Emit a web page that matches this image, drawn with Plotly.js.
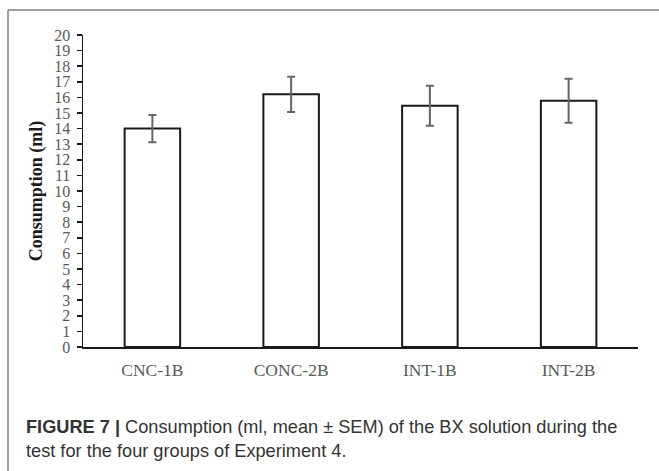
<!DOCTYPE html>
<html>
<head>
<meta charset="utf-8">
<script src="https://cdn.plot.ly/plotly-3.0.1.min.js"></script>
<style>
  html, body { margin: 0; padding: 0; background: #fff; }
  #chart { width: 659px; height: 471px; }
</style>
</head>
<body>
<div id="chart"></div>
<script>
const groups = ["CNC-1B", "CONC-2B", "INT-1B", "INT-2B"];
const meanConsumption = [14.0, 16.2, 15.47, 15.78];
const semConsumption = [0.87, 1.13, 1.28, 1.41];
const yTickValues = [0,1,2,3,4,5,6,7,8,9,10,11,12,13,14,15,16,17,18,19,20];
const captionLine1 = "<b>FIGURE 7 |</b> Consumption (ml, mean \u00b1 SEM) of the BX solution during the";
const captionLine2 = "test for the four groups of Experiment 4.";

const L = 83, R = 638, T = 35, B = 347, W = 659, H = 471;
const px = x => (x - L) / (R - L);
const py = y => (B - y) / (B - T);

const trace = {
  type: "bar",
  x: groups,
  y: meanConsumption,
  marker: { color: "#ffffff", line: { color: "#1a1a1a", width: 2 } },
  error_y: { type: "data", array: semConsumption, visible: true, color: "#666666", thickness: 2, width: 4 },
  hoverinfo: "none"
};

const serif = "Liberation Serif, Times New Roman, serif";
const sans = "Liberation Sans, Arial, sans-serif";

const layout = {
  width: W, height: H,
  margin: { l: L, r: W - R, t: T, b: H - B, pad: 0 },
  paper_bgcolor: "#ffffff",
  plot_bgcolor: "#ffffff",
  showlegend: false,
  bargap: 0.6,
  xaxis: {
    type: "category",
    showline: true, linecolor: "#1a1a1a", linewidth: 1.5,
    ticks: "", showgrid: false, zeroline: false,
    tickfont: { family: serif, size: 17.5, color: "#595959" },
    ticklabelstandoff: 6
  },
  yaxis: {
    range: [0, 20],
    tickvals: yTickValues,
    showline: true, linecolor: "#1a1a1a", linewidth: 1.5,
    ticks: "outside", ticklen: 5, tickwidth: 1.5, tickcolor: "#1a1a1a",
    showgrid: false, zeroline: false,
    tickfont: { family: serif, size: 16, color: "#595959" },
    ticklabelstandoff: 3,
    title: { text: "<b>Consumption (ml)</b>", font: { family: serif, size: 18, color: "#1a1a1a" }, standoff: 7 }
  },
  shapes: [
    { type: "line", xref: "paper", yref: "paper", x0: px(8), x1: px(8), y0: py(10), y1: py(480), line: { color: "#808080", width: 1.5 } },
    { type: "line", xref: "paper", yref: "paper", x0: px(8), x1: px(680), y0: py(10), y1: py(10), line: { color: "#808080", width: 1.5 } }
  ],
  annotations: [
    { xref: "paper", yref: "paper", x: px(24), y: py(427), xanchor: "left", yanchor: "middle", showarrow: false, align: "left",
      text: captionLine1, font: { family: sans, size: 18.2, color: "#333333" } },
    { xref: "paper", yref: "paper", x: px(24), y: py(451), xanchor: "left", yanchor: "middle", showarrow: false, align: "left",
      text: captionLine2, font: { family: sans, size: 18.2, color: "#333333" } }
  ]
};

Plotly.newPlot("chart", [trace], layout, { staticPlot: true, displayModeBar: false });
</script>
</body>
</html>
